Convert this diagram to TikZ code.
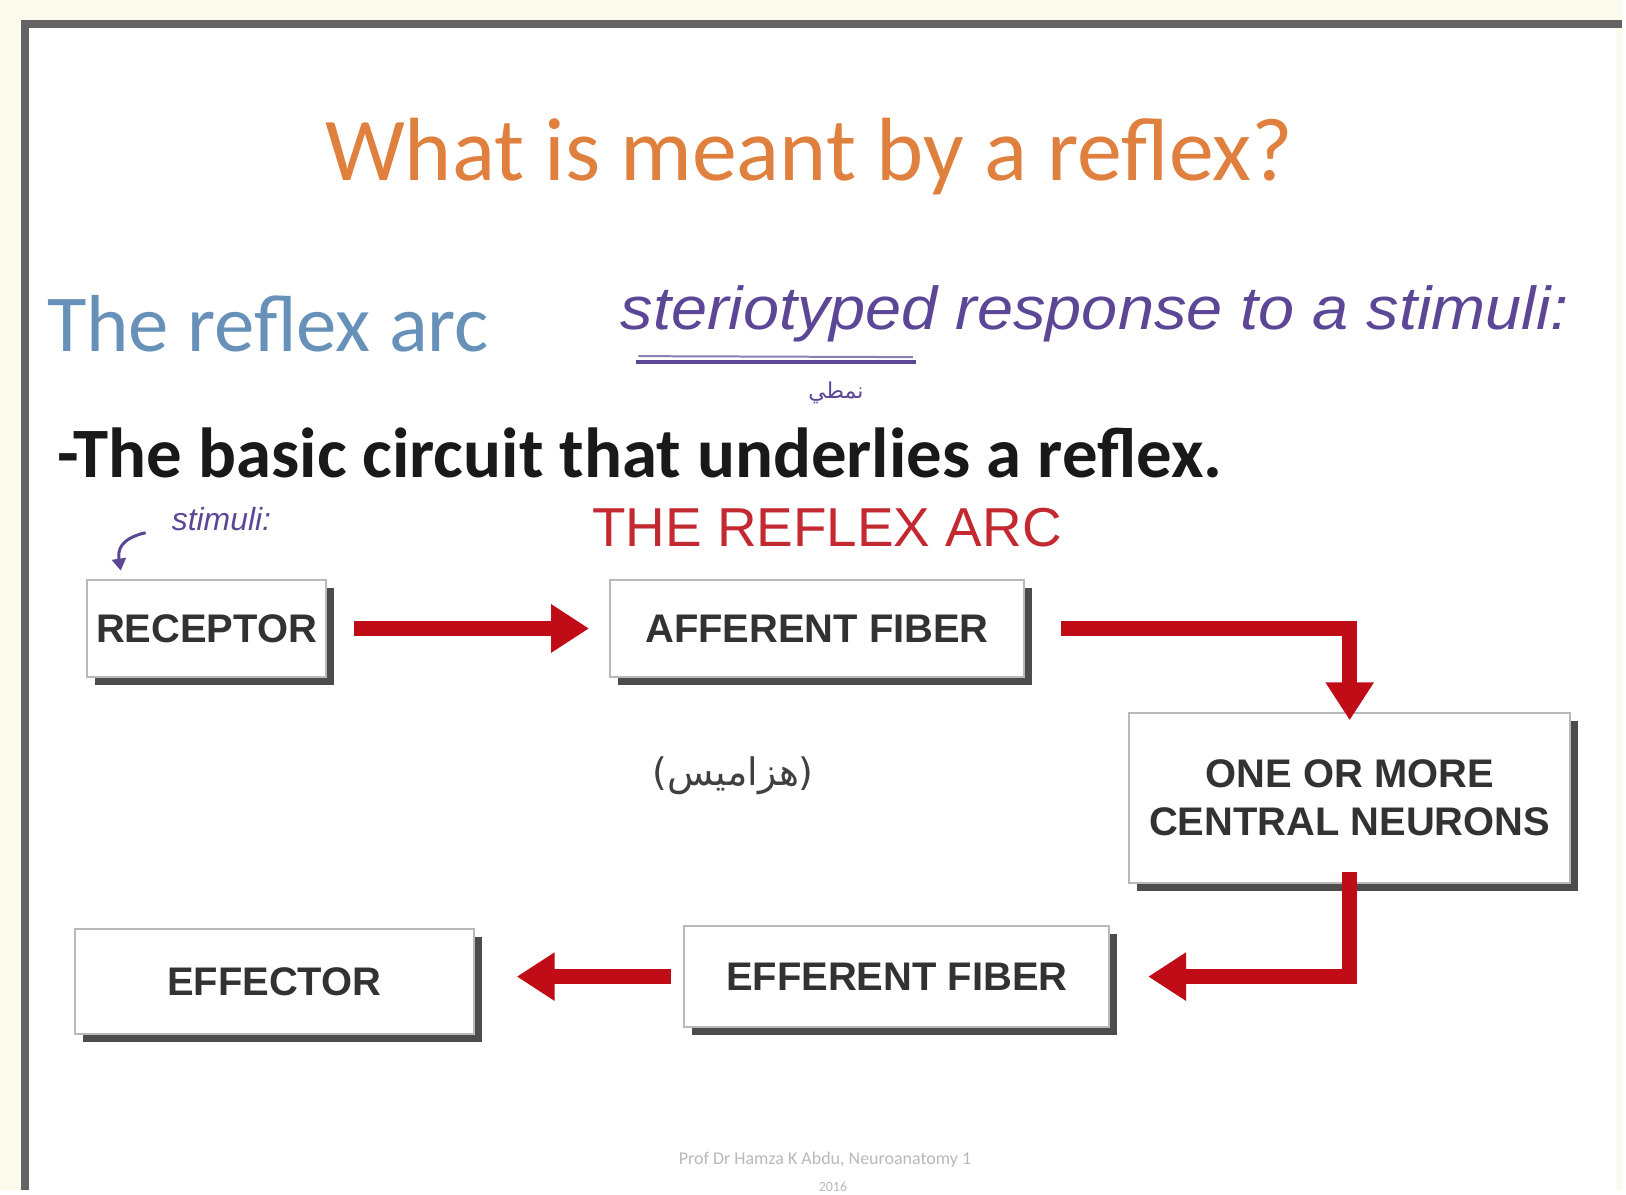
\documentclass[tikz,border=0pt]{standalone}
\usepackage{fontspec}
\setmainfont{Carlito}
\newfontfamily\arialf{Liberation Sans}
\newfontfamily\handf{Liberation Sans}
\newfontfamily\arabicfont[Script=Arabic]{DejaVu Sans}
\usetikzlibrary{arrows.meta,shadows}
\TeXXeTstate=1
\definecolor{cream}{RGB}{252,250,236}
\definecolor{titleor}{RGB}{224,128,62}
\definecolor{subblue}{RGB}{104,145,186}
\definecolor{arcred}{RGB}{196,40,48}
\definecolor{arrred}{RGB}{192,12,22}
\definecolor{handcol}{RGB}{92,70,150}
\definecolor{boxtext}{RGB}{50,50,50}
\definecolor{framecol}{RGB}{100,100,100}
\tikzset{
  box/.style={draw=gray!55, line width=2pt, fill=white,
    drop shadow={shadow xshift=8pt, shadow yshift=-8pt, fill=gray!60!black, opacity=1},
    inner sep=0pt, text=boxtext, align=center,
    font=\arialf\bfseries\fontsize{40}{48}\selectfont},
  redarrow/.style={draw=arrred, line width=15pt,
    -{Triangle[width=46pt,length=38pt]}},
  handtext/.style={text=handcol, inner sep=0pt}
}
\begin{document}
\begin{tikzpicture}[x=1pt,y=-1pt]
  % background and slide frame
  \fill[cream] (0,0) rectangle (1626,1193);
  \fill[white] (25,24) rectangle (1620,1193);
  \draw[framecol, line width=8pt] (25,1193) -- (25,24) -- (1626,24);
  \useasboundingbox (0,0) rectangle (1626,1193);

  % headings
  \node[anchor=base, text=titleor, inner sep=0pt,
        font=\fontsize{90}{100}\selectfont] (title) at (811,181) {What is meant by a reflex?};
  \node[anchor=base west, text=subblue, inner sep=0pt,
        font=\fontsize{81}{90}\selectfont] (sub) at (47,352) {The reflex arc};
  \node[anchor=base west, handtext] (hand) at (622,330)
        {\resizebox{950pt}{44pt}{\handf\itshape steriotyped response to a stimuli:}};
  \draw[handcol, line width=4pt] (638,363) -- (918,363);
  \draw[handcol!70, line width=2pt] (640,357) -- (915,358);
  \node[handtext, font=\arabicfont\fontsize{22}{24}\selectfont] (harab) at (838,394) {\beginR نمطي\endR};
  \node[anchor=base west, inner sep=0pt, text=black!90,
        font=\bfseries\fontsize{71}{80}\selectfont] (basic) at (57,479)
        {-The basic circuit that underlies a reflex.};
  \node[anchor=base, inner sep=0pt, text=arcred,
        font=\arialf\fontsize{55}{60}\selectfont] (arc) at (829,548) {THE REFLEX ARC};

  % stimulus note
  \node[handtext, font=\handf\itshape\fontsize{32}{34}\selectfont] (stim) at (222,520) {stimuli:};
  \coordinate (stimstart) at (146,534);
  \draw[handcol, line width=3pt, -{Triangle[width=14pt,length=12pt]}]
        (stimstart) .. controls (120,540) and (118,552) .. (121,572);

  % boxes
  \node[box, minimum width=239pt, minimum height=98pt] (rec) at (207,630) {RECEPTOR};
  \node[box, minimum width=415pt, minimum height=98pt] (aff) at (819,630) {AFFERENT FIBER};
  \node[box, minimum width=442pt, minimum height=170pt] (cen) at (1353,800) {ONE OR MORE\\CENTRAL NEURONS};
  \node[box, minimum width=426pt, minimum height=102pt] (eff) at (899,979) {EFFERENT FIBER};
  \node[box, minimum width=400pt, minimum height=106pt] (efc) at (275,984) {EFFECTOR};

  % arabic note
  \node[text=black!75, inner sep=0pt, font=\arabicfont\fontsize{38}{40}\selectfont] (anote) at (735,778)
        {\beginR(هزاميس)\endR};

  % arrows
  \coordinate (efcin) at (eff.west -| efc.east);
  \draw[redarrow] ([xshift=27pt]rec.east) -- ([xshift=-20pt]aff.west);
  \draw[redarrow] ([xshift=36pt]aff.east) -| ([yshift=-8pt]cen.north);
  \draw[redarrow] ([yshift=12pt]cen.south) |- ([xshift=38pt]eff.east);
  \draw[redarrow] ([xshift=-12pt]eff.west) -- ([xshift=42pt]efcin);

  % footer
  \node[text=gray!55, inner sep=0pt, font=\fontsize{18}{20}\selectfont] (foot) at (827,1163)
        {Prof Dr Hamza K Abdu, Neuroanatomy 1};
  \node[text=gray!55, inner sep=0pt, font=\fontsize{14}{16}\selectfont] (foot2) at (835,1190) {2016};
\end{tikzpicture}
\end{document}
